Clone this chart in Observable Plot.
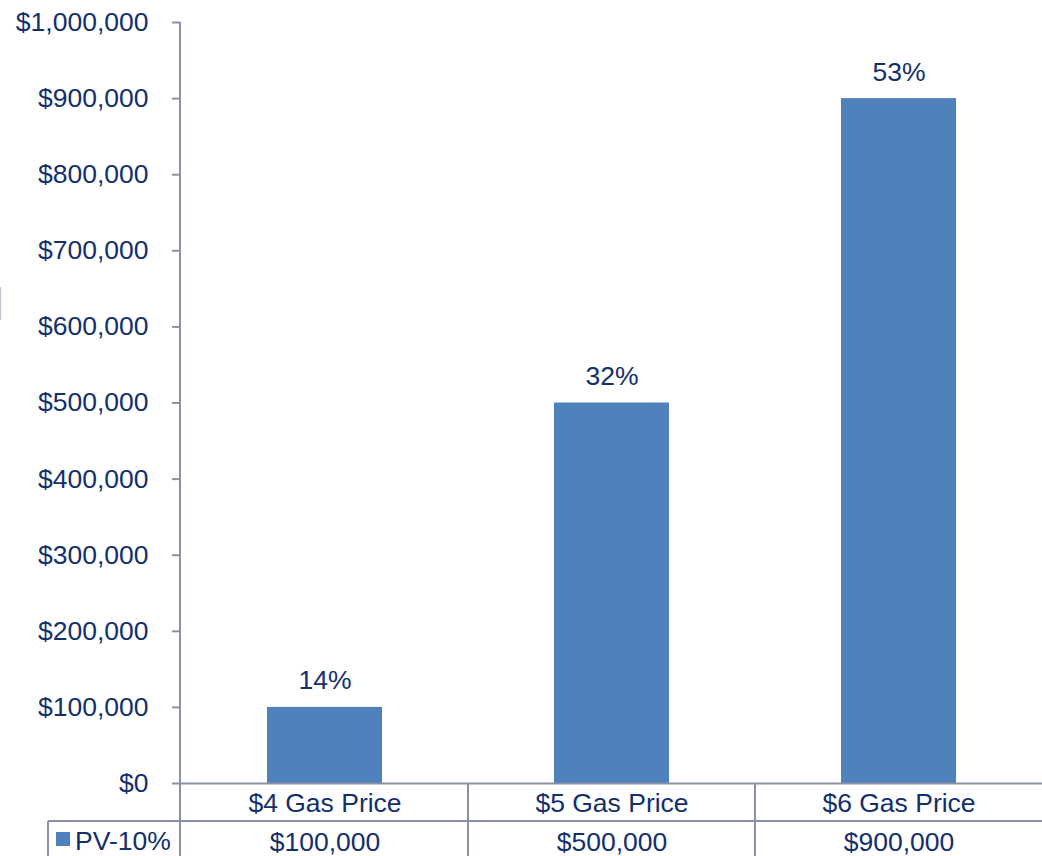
<!DOCTYPE html>
<html>
<head>
<meta charset="utf-8">
<script src="https://cdn.jsdelivr.net/npm/d3@7"></script>
<script src="https://cdn.jsdelivr.net/npm/@observablehq/plot@0.6"></script>
<style>
  html, body { margin: 0; padding: 0; background: #ffffff; }
  #chart { width: 1042px; height: 856px; overflow: hidden; }
</style>
</head>
<body>
<div id="chart"></div>
<script>
const categories = ["$4 Gas Price", "$5 Gas Price", "$6 Gas Price"];
const values = [100000, 500000, 900000];
const pctLabels = ["14%", "32%", "53%"];
const yTicks = [0, 100000, 200000, 300000, 400000, 500000, 600000, 700000, 800000, 900000, 1000000];
const seriesName = "PV-10%";

const navy = "#132f6c";
const gray = "#8a91a5";
const blue = "#4f81bd";
const font = "'Liberation Sans', Arial, sans-serif";
const FS = 26.5;
const fmtMoney = d => "$" + d3.format(",")(d);

const data = categories.map((c, i) => ({cat: c, value: values[i], pct: pctLabels[i]}));

const W = 1042, H = 856, ML = 180, MT = 22, MB = 73;

const plot = Plot.plot({
  width: W,
  height: H,
  marginLeft: ML,
  marginRight: 0,
  marginTop: MT,
  marginBottom: MB,
  style: {fontFamily: font, fontSize: FS + "px", color: navy, background: "#ffffff", overflow: "visible"},
  x: {domain: categories, paddingInner: 0.6, paddingOuter: 0.3, axis: null, label: null},
  y: {domain: [0, 1000000], axis: null, label: null},
  marks: [
    Plot.barY(data, {x: "cat", y: "value", fill: blue}),
    Plot.text(data, {x: "cat", y: "value", text: "pct", dy: -18, lineAnchor: "bottom", fill: navy, fontSize: FS}),
    Plot.axisY({ticks: yTicks, tickFormat: fmtMoney, tickSize: 8, tickPadding: 24, fontSize: FS, stroke: gray, strokeWidth: 2, fill: navy, label: null}),
    Plot.ruleY([0], {stroke: gray, strokeWidth: 2}),
    Plot.axisX({tickSize: 0, tickPadding: 10, fontSize: FS, fill: navy, label: null}),
    Plot.text(data, {x: "cat", text: d => fmtMoney(d.value), frameAnchor: "bottom", dy: 67, lineAnchor: "bottom", fill: navy, fontSize: FS})
  ]
});

document.getElementById("chart").appendChild(plot);

// table grid, axis line and legend key drawn with the plot's own scales
const svg = d3.select(plot.tagName.toLowerCase() === "svg" ? plot : plot.querySelector("svg"));
const xs = plot.scale("x");
const ys = plot.scale("y");
const y0 = ys.apply(0);
const yTop = ys.apply(1000000);
const gap = (xs.step - xs.bandwidth) / 2;
const bounds = categories.map(c => xs.apply(c) + xs.bandwidth + gap);
const rowY = 821;

const g = svg.append("g").attr("stroke", gray).attr("stroke-width", 2).attr("fill", "none");
// vertical axis line continuing through the table
g.append("line").attr("x1", ML).attr("x2", ML).attr("y1", yTop).attr("y2", H);
// column separators in table
bounds.slice(0, -1).forEach(b => {
  g.append("line").attr("x1", b).attr("x2", b).attr("y1", y0).attr("y2", H);
});
// row separator
g.append("line").attr("x1", 48).attr("x2", W).attr("y1", rowY).attr("y2", rowY);
// left border of series row
g.append("line").attr("x1", 48).attr("x2", 48).attr("y1", rowY).attr("y2", H);

// legend key
svg.append("rect").attr("x", 56).attr("y", 832).attr("width", 14).attr("height", 14).attr("fill", blue);
svg.append("text").attr("x", 75).attr("y", 850).attr("text-anchor", "start")
  .attr("font-family", font).attr("font-size", FS).attr("fill", navy).text(seriesName);

// small cut-off mark at left edge
svg.append("line").attr("x1", 0.5).attr("x2", 0.5).attr("y1", 287).attr("y2", 320)
  .attr("stroke", "#c5cbd8").attr("stroke-width", 1.5);
</script>
</body>
</html>
